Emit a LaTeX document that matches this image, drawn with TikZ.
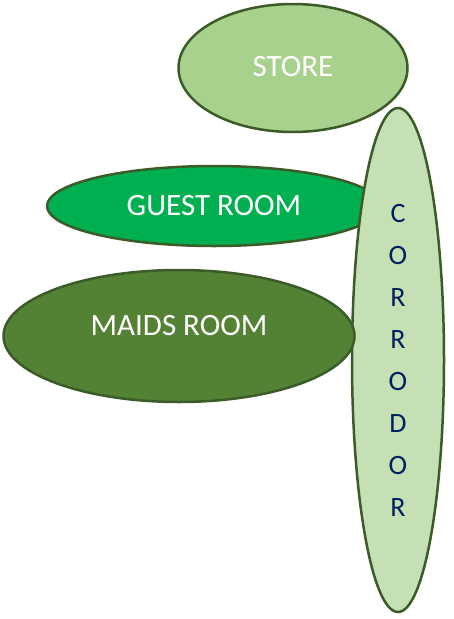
\documentclass[tikz,border=0pt]{standalone}
\usepackage{fontspec}
\setmainfont{Carlito}
\usepackage{xcolor}
\usetikzlibrary{shapes.geometric}

\definecolor{storegreen}{HTML}{A9D18E}
\definecolor{guestgreen}{HTML}{00B050}
\definecolor{maidsgreen}{HTML}{548235}
\definecolor{corrgreen}{HTML}{C5E0B4}
\definecolor{rimgreen}{HTML}{3B5B27}
\definecolor{letterblue}{HTML}{002060}

\tikzset{
    room/.style={ellipse, draw=rimgreen, line width=2.5pt, inner sep=0pt,
        text=white, font=\fontsize{31}{34}\selectfont},
}

\begin{document}
\begin{tikzpicture}[x=1pt, y=-1pt]
    \useasboundingbox (0,0) rectangle (454,619);

    % Rooms
    \node[room, fill=storegreen, minimum width=229pt, minimum height=128pt] (store) at (293,68) {\raisebox{3pt}{STORE}};
    \node[room, fill=guestgreen, minimum width=334pt, minimum height=80pt] (guest) at (214,206) {GUEST ROOM};

    % Corridor (letters stacked)
    \node[room, fill=corrgreen, minimum width=92pt, minimum height=504pt, text=letterblue,
        align=center, font=\fontsize{28}{42}\selectfont] (corridor) at (398,360)
        {C\\O\\R\\R\\O\\D\\O\\R};

    \node[room, fill=maidsgreen, minimum width=351pt, minimum height=132pt] (maids) at (179,336) {\raisebox{22pt}{MAIDS ROOM}};

\end{tikzpicture}
\end{document}
